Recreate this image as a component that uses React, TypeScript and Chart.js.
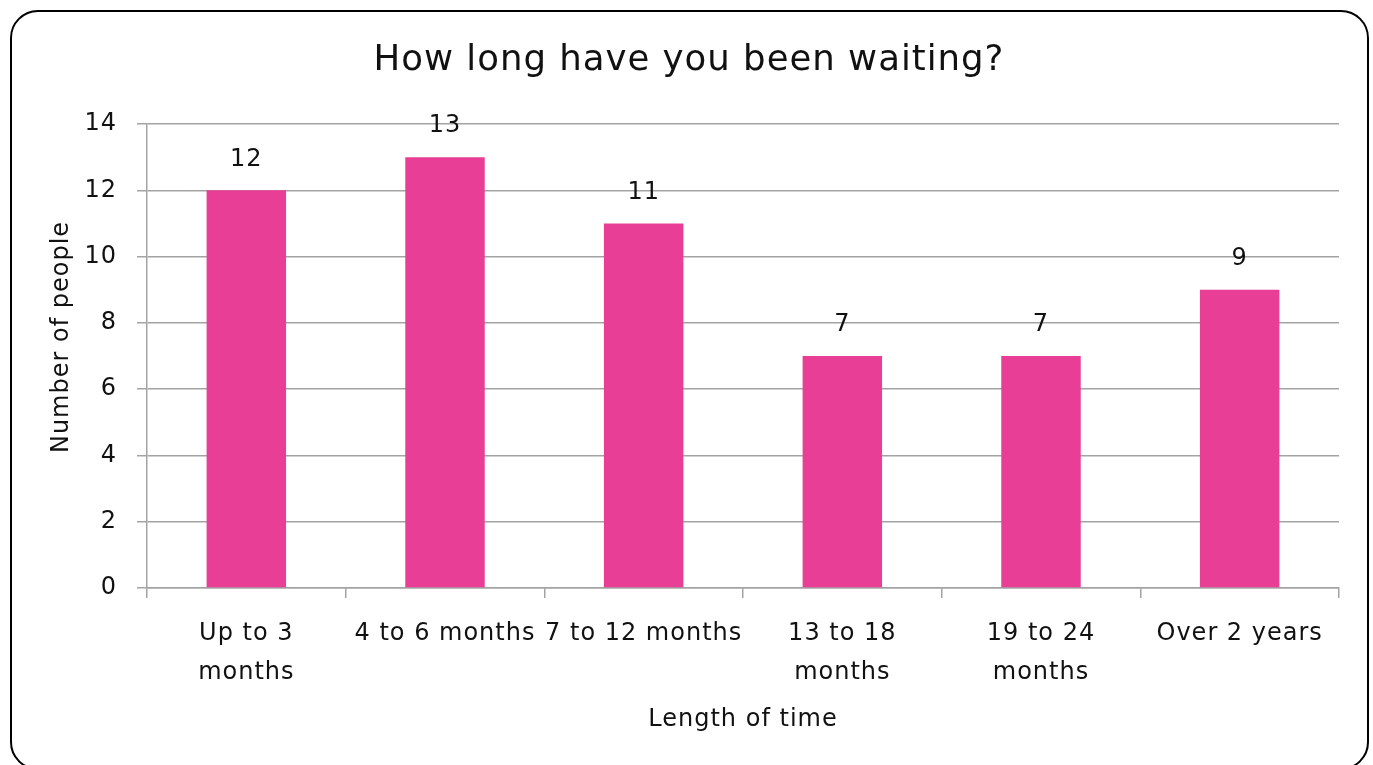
import React, { useEffect, useRef } from "react";
import { Chart, registerables } from "chart.js";

Chart.register(...registerables);

const categories: (string | string[])[] = [
  ["Up to 3", "months"],
  "4 to 6 months",
  "7 to 12 months",
  ["13 to 18", "months"],
  ["19 to 24", "months"],
  "Over 2 years",
];
const values = [12, 13, 11, 7, 7, 9];
const chartTitle = "How long have you been waiting?";
const xTitle = "Length of time";
const yTitle = "Number of people";
const yMin = 0;
const yMax = 14;
const yStep = 2;

const FONT = "'DejaVu Sans', sans-serif";
const BAR = "#E83E96";
const GRID = "#A3A3A3";
const TEXT = "#111111";
const SPACING = "1px";

const spacingPlugin = {
  id: "spacing",
  beforeUpdate(chart: any) {
    (chart.ctx as any).letterSpacing = SPACING;
  },
  beforeDraw(chart: any) {
    (chart.ctx as any).letterSpacing = SPACING;
  },
};

const dataLabels = {
  id: "dataLabels",
  afterDatasetsDraw(chart: any) {
    const ctx = chart.ctx;
    const meta = chart.getDatasetMeta(0);
    ctx.save();
    ctx.font = `24px ${FONT}`;
    ctx.fillStyle = TEXT;
    ctx.textAlign = "center";
    ctx.textBaseline = "middle";
    meta.data.forEach((el: any, i: number) => {
      ctx.fillText(String(values[i]), el.x, el.y - 31);
    });
    ctx.restore();
  },
};

const yTitlePlugin = {
  id: "yTitle",
  afterDraw(chart: any) {
    const ctx = chart.ctx;
    const area = chart.chartArea;
    ctx.save();
    ctx.font = `24px ${FONT}`;
    ctx.fillStyle = TEXT;
    ctx.textAlign = "center";
    ctx.textBaseline = "middle";
    ctx.translate(62, (area.top + area.bottom) / 2 - 19);
    ctx.rotate(-Math.PI / 2);
    ctx.fillText(yTitle, 0, 0);
    ctx.restore();
  },
};

export default function App() {
  const ref = useRef<HTMLCanvasElement>(null);
  useEffect(() => {
    document.body.style.margin = "0";
    const chart = new Chart(ref.current!, {
      type: "bar",
      data: {
        labels: categories,
        datasets: [
          {
            data: values,
            backgroundColor: BAR,
            borderWidth: 0,
            barPercentage: 0.4,
            categoryPercentage: 1,
          },
        ],
      },
      options: {
        responsive: false,
        animation: false,
        devicePixelRatio: 1,
        layout: { padding: { left: 39, right: 34, top: 0, bottom: 0 } },
        plugins: {
          legend: { display: false },
          tooltip: { enabled: false },
          title: {
            display: true,
            text: chartTitle,
            color: TEXT,
            font: { family: FONT, size: 35.5, weight: "normal", lineHeight: 1.2 },
            padding: { top: 39.7, bottom: 41.7 },
          },
        },
        scales: {
          x: {
            afterFit(scale: any) {
              scale.height = 177;
            },
            grid: {
              offset: true,
              drawOnChartArea: false,
              drawTicks: true,
              tickLength: 10,
              color: GRID,
              lineWidth: 1.5,
            },
            border: { color: GRID, width: 1.5 },
            ticks: {
              color: TEXT,
              font: { family: FONT, size: 24, lineHeight: 1.625 },
              padding: 16,
              maxRotation: 0,
              autoSkip: false,
            },
            title: {
              display: true,
              text: xTitle,
              color: TEXT,
              font: { family: FONT, size: 24, lineHeight: 1.2 },
              padding: { top: 0, bottom: 31 },
            },
          },
          y: {
            min: yMin,
            max: yMax,
            afterFit(scale: any) {
              scale.width = 108;
            },
            grid: {
              color: GRID,
              lineWidth: 1.5,
              drawTicks: true,
              tickLength: 10,
            },
            border: { color: GRID, width: 1.5 },
            ticks: {
              stepSize: yStep,
              color: TEXT,
              font: { family: FONT, size: 24 },
              padding: 20,
            },
            title: { display: false },
          },
        },
      },
      plugins: [spacingPlugin, dataLabels, yTitlePlugin],
    });
    return () => chart.destroy();
  }, []);
  return (
    <div
      style={{
        position: "fixed",
        left: 0,
        top: 0,
        width: 1373,
        height: 765,
        overflow: "hidden",
        background: "#fff",
      }}
    >
      <div
        style={{
          position: "absolute",
          left: 10,
          top: 10,
          width: 1359,
          height: 760,
          boxSizing: "border-box",
          border: "2px solid #000",
          borderRadius: 28,
        }}
      />
      <canvas
        ref={ref}
        width={1373}
        height={765}
        style={{ position: "absolute", left: 0, top: 0, width: 1373, height: 765 }}
      />
    </div>
  );
}
